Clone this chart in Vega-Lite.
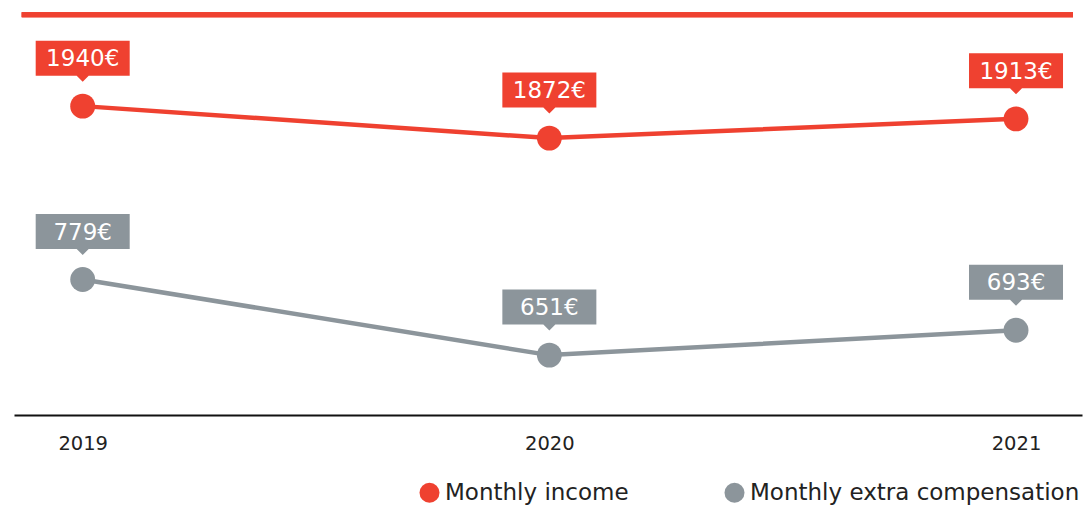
{
  "$schema": "https://vega.github.io/schema/vega-lite/v6.json",
  "width": 1068,
  "height": 415,
  "autosize": {"type": "none"},
  "padding": {"left": 14, "top": 0, "right": 2, "bottom": 91},
  "background": "white",
  "config": {"view": {"stroke": null}, "font": "DejaVu Sans"},
  "data": {
    "values": [
      {"year": 2019, "series": "Monthly income", "value": 1940, "label": "1940€"},
      {"year": 2020, "series": "Monthly income", "value": 1872, "label": "1872€"},
      {"year": 2021, "series": "Monthly income", "value": 1913, "label": "1913€"},
      {"year": 2019, "series": "Monthly extra compensation", "value": 779, "label": "779€"},
      {"year": 2020, "series": "Monthly extra compensation", "value": 651, "label": "651€"},
      {"year": 2021, "series": "Monthly extra compensation", "value": 693, "label": "693€"}
    ]
  },
  "encoding": {
    "x": {
      "field": "year",
      "type": "quantitative",
      "scale": {"domain": [2018.8528, 2021.1414], "nice": false, "zero": false},
      "axis": {
        "orient": "bottom",
        "title": null,
        "values": [2019, 2020, 2021],
        "format": "d",
        "ticks": false,
        "grid": false,
        "domainColor": "#111111",
        "domainWidth": 2,
        "labelFontSize": 19.5,
        "labelColor": "#222222",
        "labelPadding": 19,
        "labelFlush": false,
        "labelDx": 4
      }
    }
  },
  "layer": [
    {
      "transform": [{"filter": "datum.series === 'Monthly income'"}],
      "encoding": {
        "y": {
          "field": "value",
          "type": "quantitative",
          "scale": {"domain": [1283.4, 2165.6], "nice": false, "zero": false},
          "axis": null
        }
      },
      "layer": [
        {"mark": {"type": "line", "color": "#ef4130", "strokeWidth": 4.5}, "encoding": {}},
        {
          "mark": {"type": "rule", "color": "#ef4130", "strokeWidth": 5},
          "encoding": {
            "x": {"datum": 2018.8693},
            "x2": {"datum": 2021.1221},
            "y": {"datum": 2134}
          }
        },
        {
          "mark": {"type": "point", "filled": true, "opacity": 1, "size": 620, "shape": "circle"},
          "encoding": {
            "color": {
              "field": "series",
              "type": "nominal",
              "scale": {"domain": ["Monthly income", "Monthly extra compensation"], "range": ["#ef4130", "#8c959b"]},
              "legend": {
                "title": null,
                "orient": "none",
                "direction": "horizontal",
                "legendX": 404,
                "legendY": 481,
                "padding": 0,
                "labelFontSize": 23,
                "labelFont": "DejaVu Sans",
                "labelColor": "#222222",
                "labelLimit": 600,
                "labelOffset": 4,
                "symbolSize": 400,
                "symbolType": "circle",
                "symbolStrokeWidth": 0,
                "symbolOpacity": 1,
                "columnPadding": 94
              }
            }
          }
        },
        {
          "mark": {
            "type": "point",
            "filled": true,
            "opacity": 1,
            "color": "#ef4130",
            "size": 10000,
            "strokeWidth": 0,
            "shape": "M-0.94,-1.31L0.94,-1.31L0.94,-0.61L0.12,-0.61L0,-0.49L-0.12,-0.61L-0.94,-0.61Z"
          },
          "encoding": {}
        },
        {
          "mark": {"type": "text", "color": "#ffffff", "fontSize": 23, "baseline": "middle", "align": "center", "yOffset": -47},
          "encoding": {"text": {"field": "label"}}
        }
      ]
    },
    {
      "transform": [{"filter": "datum.series === 'Monthly extra compensation'"}],
      "encoding": {
        "y": {
          "field": "value",
          "type": "quantitative",
          "scale": {"domain": [549.5, 1252.7], "nice": false, "zero": false},
          "axis": null
        }
      },
      "layer": [
        {"mark": {"type": "line", "color": "#8c959b", "strokeWidth": 4.5}, "encoding": {}},
        {
          "mark": {"type": "point", "filled": true, "opacity": 1, "size": 620, "shape": "circle"},
          "encoding": {
            "color": {"field": "series", "type": "nominal"}
          }
        },
        {
          "mark": {
            "type": "point",
            "filled": true,
            "opacity": 1,
            "color": "#8c959b",
            "size": 10000,
            "strokeWidth": 0,
            "shape": "M-0.94,-1.31L0.94,-1.31L0.94,-0.61L0.12,-0.61L0,-0.49L-0.12,-0.61L-0.94,-0.61Z"
          },
          "encoding": {}
        },
        {
          "mark": {"type": "text", "color": "#ffffff", "fontSize": 23, "baseline": "middle", "align": "center", "yOffset": -47},
          "encoding": {"text": {"field": "label"}}
        }
      ]
    }
  ],
  "resolve": {"scale": {"y": "independent"}}
}
